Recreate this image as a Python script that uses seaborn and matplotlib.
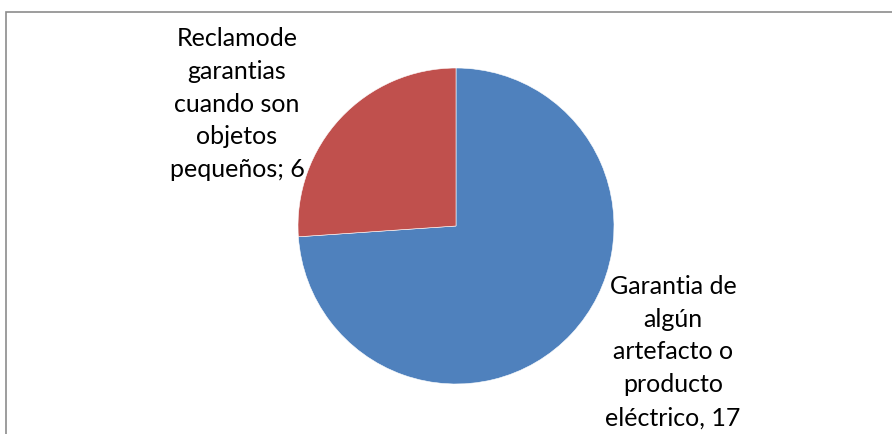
import matplotlib
matplotlib.use("Agg")
import matplotlib.pyplot as plt
import matplotlib.patches as mpatches
import seaborn as sns

# Warranty claim categories and their counts
categories = [
    "Garantia de\nalgún\nartefacto o\nproducto\neléctrico, 17",
    "Reclamode\ngarantias\ncuando son\nobjetos\npequeños; 6",
]
counts = [17, 6]
colors = ["#4F81BD", "#C0504D"]

sns.set_theme(style="white")
plt.rcParams["font.family"] = ["Lato", "DejaVu Sans"]

W, H = 892, 435
fig = plt.figure(figsize=(W / 100, H / 100), dpi=100)
fig.patch.set_facecolor("white")

# Chart-area frame, running off the right and bottom edges
frame = mpatches.Rectangle((6 / W, -0.1), 1.2, (H - 13) / H + 0.1,
                           transform=fig.transFigure, fill=False,
                           edgecolor="#8C8C8C", linewidth=1.2, clip_on=False)
fig.patches.append(frame)

# Pie axes: centre at (456, 227) px, radius 158 px
r = 158
cx, cy = 456, 227
ax = fig.add_axes([(cx - r) / W, (H - cy - r) / H, 2 * r / W, 2 * r / H])
ax.pie(counts, colors=colors, startangle=90, counterclock=False,
       wedgeprops=dict(edgecolor="white", linewidth=0.4))
ax.set_xlim(-1, 1)
ax.set_ylim(-1, 1)
ax.set_aspect("equal")
ax.axis("off")

# Category labels with values
label_pos = [(673, 352), (237, 104)]
for text, (px, py) in zip(categories, label_pos):
    fig.text(px / W, 1 - py / H, text, ha="center", va="center",
             fontsize=18, color="black", linespacing=1.52)

fig.savefig("out.png", dpi=100, facecolor="white")
